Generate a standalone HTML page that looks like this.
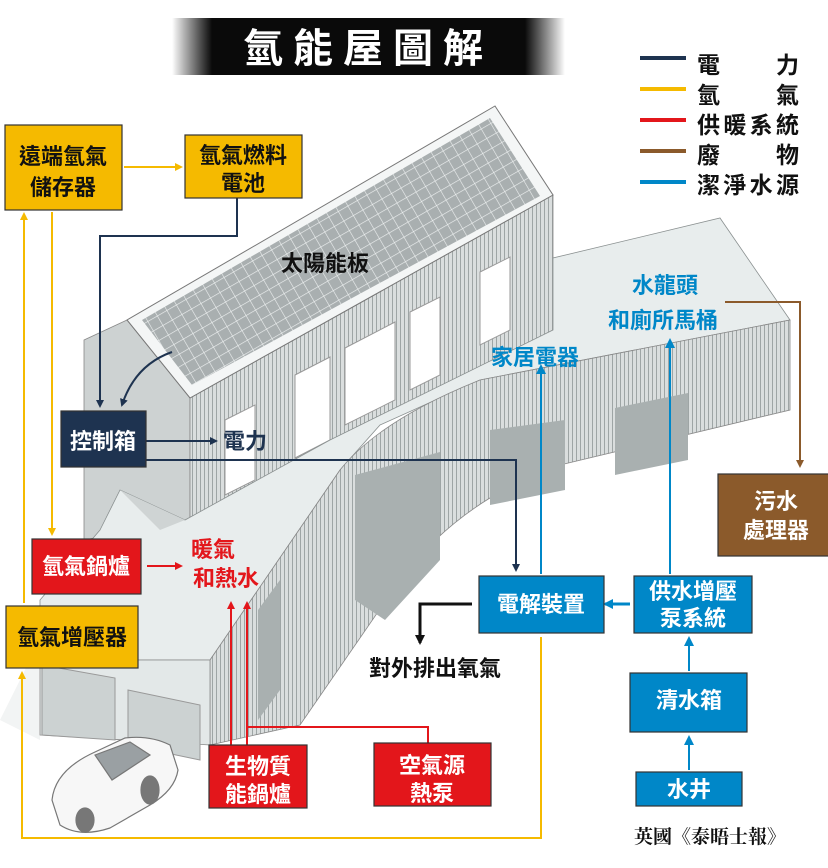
<!DOCTYPE html>
<html><head><meta charset="utf-8"><style>
html,body{margin:0;padding:0;background:#fff;}
svg{display:block;}
text{font-family:"Liberation Sans","Noto Sans CJK TC","Noto Sans CJK SC",sans-serif;}
</style></head><body>
<svg width="828" height="868" viewBox="0 0 828 868" xmlns="http://www.w3.org/2000/svg">
<defs>
<linearGradient id="tl" x1="0" x2="1"><stop offset="0" stop-color="#000" stop-opacity="0"/><stop offset="1" stop-color="#0a0a0a"/></linearGradient>
<linearGradient id="tr" x1="0" x2="1"><stop offset="0" stop-color="#0a0a0a"/><stop offset="1" stop-color="#000" stop-opacity="0"/></linearGradient>
<pattern id="stripe" width="4" height="10" patternUnits="userSpaceOnUse"><rect width="4" height="10" fill="#dadede"/><rect width="1" height="10" fill="#9ea5a5"/></pattern>
<pattern id="grid" width="11" height="11" patternUnits="userSpaceOnUse" patternTransform="rotate(-30)"><rect width="11" height="11" fill="#a9afb0"/><path d="M0 0H11M0 0V11" stroke="#eef1f1" stroke-width="1.2"/></pattern>
<marker id="aG" markerWidth="8" markerHeight="8" refX="6" refY="4" orient="auto" markerUnits="userSpaceOnUse"><path d="M0,0 L8,4 L0,8 z" fill="#F5BA00"/></marker>
<marker id="aN" markerWidth="8" markerHeight="8" refX="6" refY="4" orient="auto" markerUnits="userSpaceOnUse"><path d="M0,0 L8,4 L0,8 z" fill="#1E3350"/></marker>
<marker id="aB" markerWidth="10" markerHeight="10" refX="8" refY="5" orient="auto" markerUnits="userSpaceOnUse"><path d="M0,0 L10,5 L0,10 z" fill="#0087C8"/></marker>
<marker id="aR" markerWidth="8" markerHeight="8" refX="6" refY="4" orient="auto" markerUnits="userSpaceOnUse"><path d="M0,0 L8,4 L0,8 z" fill="#E3161B"/></marker>
<marker id="aW" markerWidth="8" markerHeight="8" refX="6" refY="4" orient="auto" markerUnits="userSpaceOnUse"><path d="M0,0 L8,4 L0,8 z" fill="#8B5A2B"/></marker>
<marker id="aK" markerWidth="10" markerHeight="10" refX="8" refY="5" orient="auto" markerUnits="userSpaceOnUse"><path d="M0,0 L10,5 L0,10 z" fill="#111"/></marker>
</defs>

<polygon points="0,720 40,640 40,740" fill="#f2f4f4"/>

<polygon points="84,340 127,320 190,398 190,520 84,540" fill="#cdd2d2" stroke="#888" stroke-width="0.8"/>
<polygon points="190,398 553,195 553,330 190,520" fill="url(#stripe)" stroke="#888" stroke-width="0.8"/>
<polygon points="225,420 255,405 255,480 225,495" fill="#fff" stroke="#999"/>
<polygon points="295,375 330,357 330,440 295,458" fill="#fff" stroke="#999"/>
<polygon points="345,348 395,322 395,400 345,425" fill="#fff" stroke="#999"/>
<polygon points="410,312 440,297 440,375 410,390" fill="#fff" stroke="#999"/>
<polygon points="480,272 510,257 510,330 480,345" fill="#fff" stroke="#999"/>
<polygon points="127,320 495,106 553,195 190,398" fill="#f4f6f6" stroke="#777" stroke-width="1"/>
<polygon points="142,320 490,118 540,196 192,385" fill="url(#grid)"/>

<polygon points="100,530 120,490 185,520 330,440 553,330 553,258 720,218 790,320 480,380 380,425 340,470 210,660 40,660 40,600" fill="#e8eded" stroke="#8a9090" stroke-width="0.8"/>
<polygon points="120,490 185,520 160,530" fill="#cfd4d4"/>
<path d="M210,660 L340,470 Q380,420 480,380 L790,320 L790,410 L560,465 Q460,500 400,580 L300,725 L210,745 Z" fill="url(#stripe)" stroke="#888" stroke-width="0.8"/>
<polygon points="355,475 440,452 440,560 385,620 355,600" fill="#a9b0b0"/>
<polygon points="490,430 565,420 565,490 490,505" fill="#a9b0b0"/>
<polygon points="615,408 688,393 688,460 615,475" fill="#a9b0b0"/>
<polygon points="258,610 280,580 280,690 258,720" fill="#a9b0b0"/>
<polygon points="40,660 210,660 210,745 40,735" fill="#e3e8e8" stroke="#888" stroke-width="0.8"/>
<polygon points="42,665 115,678 115,740 42,735" fill="#ccd2d2" stroke="#999"/>
<polygon points="128,690 200,705 200,760 128,745" fill="#ccd2d2" stroke="#999"/>

<g stroke="#777" stroke-width="1.2" fill="#f7f7f7">
<path d="M52,800 Q55,770 95,752 L125,738 Q150,735 170,745 L178,770 Q175,790 150,805 L110,828 Q80,838 60,825 Z"/>
<path d="M95,755 L130,742 L150,755 L112,780 Z" fill="#9aa0a3"/>
<ellipse cx="150" cy="790" rx="9" ry="14" fill="#777"/>
<ellipse cx="85" cy="820" rx="9" ry="12" fill="#777"/>
</g>

<rect x="172" y="18" width="40" height="57" fill="url(#tl)"/>
<rect x="212" y="18" width="313" height="57" fill="#0a0a0a"/>
<rect x="525" y="18" width="40" height="57" fill="url(#tr)"/>
<text x="368" y="62" font-size="40" fill="#fff" text-anchor="middle" letter-spacing="10" font-weight="bold">氫能屋圖解</text>

<g stroke-width="4">
<line x1="640" y1="58" x2="686" y2="58" stroke="#1E3350"/>
<line x1="640" y1="89" x2="686" y2="89" stroke="#F5BA00"/>
<line x1="640" y1="120" x2="686" y2="120" stroke="#E3161B"/>
<line x1="640" y1="151" x2="686" y2="151" stroke="#8B5A2B"/>
<line x1="640" y1="182" x2="686" y2="182" stroke="#0087C8"/>
</g>
<g font-size="23" fill="#111" font-weight="bold">
<text x="697" y="73">電</text><text x="776" y="73">力</text>
<text x="697" y="103">氫</text><text x="776" y="103">氣</text>
<text x="697" y="133" textLength="102">供暖系統</text>
<text x="697" y="163">廢</text><text x="776" y="163">物</text>
<text x="697" y="193" textLength="102">潔淨水源</text>
</g>

<g fill="none" stroke-width="2">
<line x1="124" y1="167" x2="181" y2="167" stroke="#F5BA00" marker-end="url(#aG)"/>
<line x1="24" y1="603" x2="24" y2="214" stroke="#F5BA00" marker-end="url(#aG)"/>
<line x1="52" y1="212" x2="52" y2="534" stroke="#F5BA00" marker-end="url(#aG)"/>
<polyline points="541,637 541,838 22,838 22,673" stroke="#F5BA00" marker-end="url(#aG)"/>
<polyline points="237,198 237,236 100,236 100,406" stroke="#1E3350" marker-end="url(#aN)"/>
<path d="M172,352 Q135,365 122,405" stroke="#1E3350" marker-end="url(#aN)"/>
<line x1="146" y1="441" x2="216" y2="441" stroke="#1E3350" marker-end="url(#aN)"/>
<polyline points="146,460 516,460 516,570" stroke="#1E3350" marker-end="url(#aN)"/>
<line x1="541" y1="574" x2="541" y2="366" stroke="#0087C8" marker-end="url(#aB)"/>
<line x1="670" y1="574" x2="670" y2="340" stroke="#0087C8" marker-end="url(#aB)"/>
<line x1="630" y1="604" x2="605" y2="604" stroke="#0087C8" stroke-width="3" marker-end="url(#aB)"/>
<line x1="689" y1="671" x2="689" y2="638" stroke="#0087C8" marker-end="url(#aB)"/>
<line x1="689" y1="770" x2="689" y2="737" stroke="#0087C8" marker-end="url(#aB)"/>
<polyline points="725,302 800,302 800,466" stroke="#8B5A2B" marker-end="url(#aW)"/>
<line x1="147" y1="566" x2="181" y2="566" stroke="#E3161B" marker-end="url(#aR)"/>
<line x1="231" y1="745" x2="231" y2="603" stroke="#E3161B" marker-end="url(#aR)"/>
<line x1="247" y1="745" x2="247" y2="603" stroke="#E3161B" marker-end="url(#aR)"/>
<polyline points="247,727 428,727 428,743" stroke="#E3161B"/>
<polyline points="472,604 420,604 420,643" stroke="#111" stroke-width="3" marker-end="url(#aK)"/>
</g>

<g stroke="#333" stroke-width="1.2">
<rect x="5" y="125" width="117" height="85" fill="#F5BA00"/>
<rect x="185" y="135" width="117" height="63" fill="#F5BA00"/>
<rect x="61" y="411" width="85" height="56" fill="#1E3350"/>
<rect x="32" y="539" width="109" height="55" fill="#E3161B"/>
<rect x="6" y="606" width="132" height="62" fill="#F5BA00"/>
<rect x="209" y="745" width="98" height="63" fill="#E3161B"/>
<rect x="374" y="743" width="117" height="63" fill="#E3161B"/>
<rect x="479" y="576" width="125" height="57" fill="#0087C8"/>
<rect x="634" y="576" width="118" height="57" fill="#0087C8"/>
<rect x="630" y="673" width="117" height="59" fill="#0087C8"/>
<rect x="636" y="772" width="106" height="34" fill="#0087C8"/>
<rect x="718" y="474" width="112" height="82" fill="#8B5A2B"/>
</g>

<g font-size="22" text-anchor="middle" font-weight="bold">
<text x="63" y="164" fill="#111">遠端氫氣</text>
<text x="63" y="195" fill="#111">儲存器</text>
<text x="243" y="163" fill="#111">氫氣燃料</text>
<text x="243" y="191" fill="#111">電池</text>
<text x="103" y="449" fill="#fff">控制箱</text>
<text x="86" y="574" fill="#fff">氫氣鍋爐</text>
<text x="72" y="645" fill="#111">氫氣增壓器</text>
<text x="258" y="774" fill="#fff">生物質</text>
<text x="258" y="802" fill="#fff">能鍋爐</text>
<text x="432" y="773" fill="#fff">空氣源</text>
<text x="432" y="801" fill="#fff">熱泵</text>
<text x="541" y="612" fill="#fff">電解裝置</text>
<text x="693" y="599" fill="#fff">供水增壓</text>
<text x="693" y="626" fill="#fff">泵系統</text>
<text x="689" y="708" fill="#fff">清水箱</text>
<text x="689" y="797" fill="#fff">水井</text>
<text x="776" y="509" fill="#fff">污水</text>
<text x="776" y="538" fill="#fff">處理器</text>
</g>

<g font-size="22" text-anchor="middle" font-weight="bold">
<text x="325" y="271" fill="#111">太陽能板</text>
<text x="665" y="293" fill="#0087C8">水龍頭</text>
<text x="663" y="328" fill="#0087C8">和廁所馬桶</text>
<text x="535" y="365" fill="#0087C8">家居電器</text>
<text x="245" y="449" fill="#1E3350">電力</text>
<text x="213" y="557" fill="#E3161B">暖氣</text>
<text x="226" y="586" fill="#E3161B">和熱水</text>
<text x="435" y="676" fill="#111">對外排出氧氣</text>
</g>
<text x="710" y="843" fill="#111" font-size="19" font-weight="bold" text-anchor="middle" style='font-family:"Liberation Serif","Noto Serif CJK SC",serif'>英國《泰晤士報》</text>
</svg>
</body></html>
